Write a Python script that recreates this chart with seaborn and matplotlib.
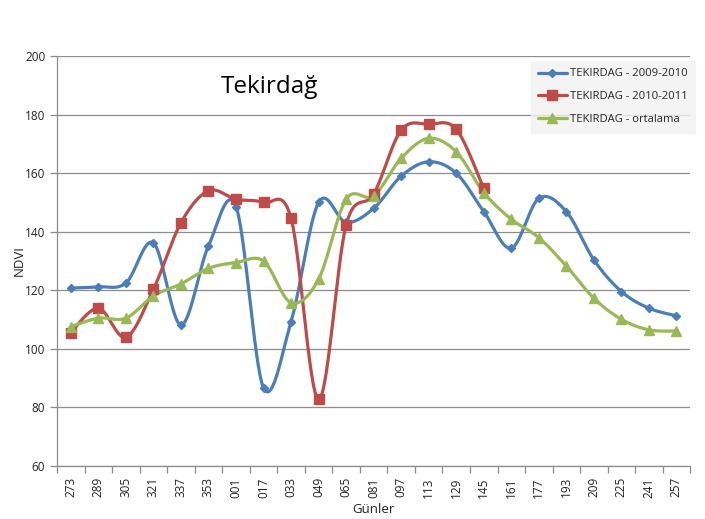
import numpy as np
import pandas as pd
import matplotlib
matplotlib.use("Agg")
import matplotlib.pyplot as plt
import seaborn as sns
from matplotlib.lines import Line2D

# --------------------------------------------------
# Data
# --------------------------------------------------
days = ["273", "289", "305", "321", "337", "353", "001", "017", "033", "049", "065", "081",
        "097", "113", "129", "145", "161", "177", "193", "209", "225", "241", "257"]

ndvi_2009_2010 = [120.8, 121.2, 122.5, 136.2, 108.2, 135.2, 148.6, 86.7, 109.3, 150.0, 143.2, 148.0,
                  159.0, 163.9, 160.0, 146.9, 134.4, 151.4, 146.9, 130.4, 119.6, 113.9, 111.3]
ndvi_2010_2011 = [105.6, 113.9, 104.0, 120.4, 143.1, 154.0, 151.1, 150.0, 144.6, 82.8, 142.3, 152.9,
                  174.7, 176.7, 175.0, 154.8]
ndvi_mean = [107.6, 110.5, 110.5, 118.1, 122.2, 127.5, 129.5, 130.0, 115.8, 123.8, 151.1, 152.3,
             165.1, 171.9, 167.3, 153.4, 144.3, 138.0, 128.3, 117.3, 110.1, 106.5, 106.1]

series = [
    ("TEKIRDAG - 2009-2010", ndvi_2009_2010, "#4a7ebb", "D", 4.5),
    ("TEKIRDAG - 2010-2011", ndvi_2010_2011, "#be4b48", "s", 7.5),
    ("TEKIRDAG - ortalama", ndvi_mean, "#98b954", "^", 7.5),
]


# Excel-like smoothed line (Bezier through the points)
def smooth(y, n=30):
    y = np.asarray(y, dtype=float)
    x = np.arange(len(y), dtype=float)
    xs, ys = [], []
    for i in range(len(y) - 1):
        p0 = (x[max(i - 1, 0)], y[max(i - 1, 0)])
        p1 = (x[i], y[i])
        p2 = (x[i + 1], y[i + 1])
        p3 = (x[min(i + 2, len(y) - 1)], y[min(i + 2, len(y) - 1)])
        c1 = (p1[0] + (p2[0] - p0[0]) / 6, p1[1] + (p2[1] - p0[1]) / 6)
        c2 = (p2[0] - (p3[0] - p1[0]) / 6, p2[1] - (p3[1] - p1[1]) / 6)
        t = np.linspace(0, 1, n, endpoint=(i == len(y) - 2))
        b0, b1, b2, b3 = (1 - t) ** 3, 3 * (1 - t) ** 2 * t, 3 * (1 - t) * t ** 2, t ** 3
        xs.append(b0 * p1[0] + b1 * c1[0] + b2 * c2[0] + b3 * p2[0])
        ys.append(b0 * p1[1] + b1 * c1[1] + b2 * c2[1] + b3 * p2[1])
    return np.concatenate(xs), np.concatenate(ys)


# --------------------------------------------------
# Plot
# --------------------------------------------------
sns.set_theme(style="white")
plt.rcParams["font.family"] = ["Open Sans", "DejaVu Sans"]

fig = plt.figure(figsize=(7.05, 5.19), dpi=100)
ax = fig.add_axes([0.081, 0.102, 0.898, 0.790])

handles = []
for name, vals, color, marker, msize in series:
    sx, sy = smooth(vals)
    sns.lineplot(x=sx, y=sy, ax=ax, color=color, linewidth=2.3, sort=False, zorder=3)
    pts = pd.DataFrame({"x": np.arange(len(vals)), "y": vals})
    ax.plot(pts["x"], pts["y"], linestyle="none", marker=marker, markersize=msize,
            color=color, markeredgecolor=color, zorder=4)
    handles.append(Line2D([0], [0], color=color, linewidth=2.3, marker=marker,
                          markersize=msize, markeredgecolor=color))

ax.set_xlim(-0.5, len(days) - 0.5)
ax.set_ylim(60, 200)
ax.set_yticks(range(60, 201, 20))
ax.yaxis.grid(True, color="#8c8c8c", linewidth=0.9)
ax.set_axisbelow(True)

ax.set_xticks(np.arange(len(days)))
ax.set_xticklabels(days, rotation=90, fontsize=8.5, color="#222222")
ax.set_xticks(np.arange(len(days) + 1) - 0.5, minor=True)
ax.tick_params(axis="x", which="major", length=0, pad=8)
ax.tick_params(axis="x", which="minor", length=5, width=0.9, color="#8c8c8c", bottom=True)
ax.tick_params(axis="y", length=5, width=0.9, color="#8c8c8c", left=True, labelsize=8.5,
               labelcolor="#222222")

for side in ["top", "right"]:
    ax.spines[side].set_visible(False)
for side in ["left", "bottom"]:
    ax.spines[side].set_color("#8c8c8c")
    ax.spines[side].set_linewidth(0.9)

ax.set_xlabel("Günler", fontsize=9.5, color="#222222", labelpad=4)
ax.set_ylabel("NDVI", fontsize=9.5, color="#222222")
ax.yaxis.set_label_coords(-0.05, 0.5)

ax.text(0.336, 0.925, "Tekirdağ", transform=ax.transAxes, fontsize=17.5, ha="center",
        va="center", color="#000000")

leg = fig.legend(handles=handles, labels=[s[0] for s in series], loc="upper right",
                 bbox_to_anchor=(701 / 705, 1 - 55 / 519), fontsize=8.1, frameon=True,
                 handlelength=2.5, handletextpad=0.3, labelspacing=1.05, borderpad=0.7,
                 fancybox=False)
leg.get_frame().set_facecolor("#f2f2f2")
leg.get_frame().set_edgecolor("#f2f2f2")

plt.savefig("out.png", dpi=100)
